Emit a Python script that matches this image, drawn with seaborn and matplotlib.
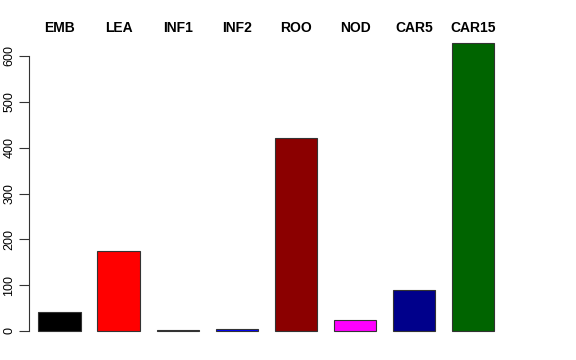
import matplotlib
matplotlib.use("Agg")
import matplotlib.pyplot as plt
import matplotlib.transforms as mtransforms
import seaborn as sns
import pandas as pd

categories = ["EMB", "LEA", "INF1", "INF2", "ROO", "NOD", "CAR5", "CAR15"]
values = [41, 175, 2, 5, 421, 25, 89, 628]
colors = ["#000000", "#FF0000", "#000000", "#0000FF", "#8B0000", "#FF00FF", "#00008B", "#006400"]
yticks = [0, 100, 200, 300, 400, 500, 600]

sns.set_style("white")
plt.rcParams["font.family"] = ["Liberation Sans", "DejaVu Sans"]
plt.rcParams["text.color"] = "black"
plt.rcParams["ytick.color"] = "black"
plt.rcParams["ytick.labelcolor"] = "black"

df = pd.DataFrame({"tissue": categories, "value": values})

W, H = 576, 360
fig = plt.figure(figsize=(W / 100, H / 100), dpi=100)
left_px, right_px, top_px, bottom_px = 29.3, 560, 31, 342
ax = fig.add_axes([left_px / W, 1 - bottom_px / H, (right_px - left_px) / W, (bottom_px - top_px) / H])

sns.barplot(data=df, x="tissue", y="value", hue="tissue", palette=colors, legend=False,
            width=0.715, edgecolor="#333333", linewidth=0.8, ax=ax, saturation=1)

pitch = 59.1
x0_px = 59.5
ax.set_xlim((left_px - x0_px) / pitch, (right_px - x0_px) / pitch)
ppu = 275 / 600
ax.set_ylim(-(bottom_px - 331) / ppu, (331 - top_px) / ppu)

for s in ["top", "right", "bottom"]:
    ax.spines[s].set_visible(False)
ax.spines["left"].set_bounds(0, 600)
ax.spines["left"].set_color("#333333")
ax.spines["left"].set_linewidth(0.8)
ax.set_xticks([])
ax.set_yticks(yticks)
ax.set_yticklabels([str(t) for t in yticks], rotation=90, va="center", fontsize=9, color="black")
ax.tick_params(axis="y", length=7, width=0.8, color="#333333", pad=3, left=True)
ax.set_xlabel("")
ax.set_ylabel("")

trans = mtransforms.blended_transform_factory(ax.transData, fig.transFigure)
for i, c in enumerate(categories):
    ax.text(i, 1 - 28.5 / H, c, transform=trans, ha="center", va="center",
            fontsize=10, fontweight="bold", color="black")

fig.savefig("out.png", dpi=100)
